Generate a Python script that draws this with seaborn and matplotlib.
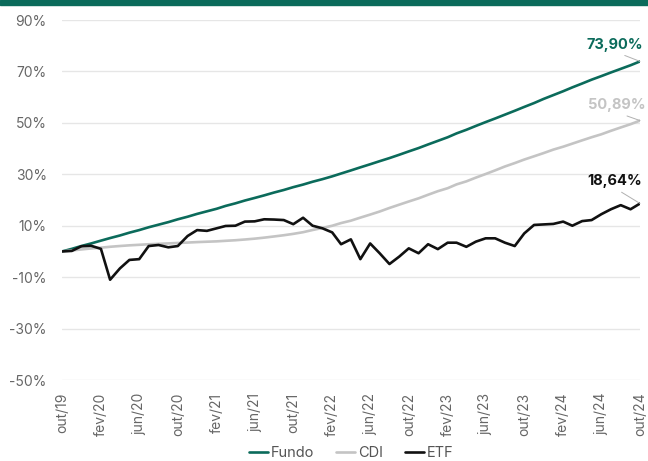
import pandas as pd
import matplotlib.pyplot as plt
import seaborn as sns
from matplotlib.patches import Rectangle

# ----------------------------------------
# Dados (retorno acumulado, %)
# ----------------------------------------
datas = pd.date_range("2019-10-01", "2024-10-01", freq="MS")

fundo = [0.0, 1.0, 2.1, 3.1, 4.2, 5.2, 6.2, 7.3, 8.3, 9.4,
         10.4, 11.4, 12.5, 13.5, 14.6, 15.6, 16.6, 17.7, 18.7, 19.8,
         20.8, 21.8, 22.9, 23.9, 25.0, 26.0, 27.1, 28.1, 29.2, 30.3,
         31.5, 32.7, 33.9, 35.1, 36.3, 37.6, 38.9, 40.2, 41.6, 43.0,
         44.4, 45.9, 47.3, 48.8, 50.3, 51.7, 53.2, 54.7, 56.2, 57.7,
         59.3, 60.8, 62.3, 63.8, 65.3, 66.8, 68.2, 69.6, 71.0, 72.4,
         73.90]

cdi = [0.0, 0.39, 0.77, 1.16, 1.46, 1.81, 2.11, 2.37, 2.58, 2.79,
       2.95, 3.12, 3.29, 3.45, 3.63, 3.78, 3.92, 4.13, 4.35, 4.64,
       4.97, 5.36, 5.82, 6.30, 6.83, 7.48, 8.33, 9.13, 9.99, 11.03,
       11.96, 13.15, 14.33, 15.52, 16.91, 18.19, 19.42, 20.65, 22.04, 23.43,
       24.59, 26.07, 27.25, 28.70, 30.11, 31.52, 33.04, 34.36, 35.73, 37.00,
       38.24, 39.60, 40.73, 41.92, 43.20, 44.41, 45.57, 46.91, 48.21, 49.48,
       50.89]

etf = [0.0, 0.2, 2.0, 2.2, 1.0, -11.0, -6.6, -3.3, -3.0, 2.1,
       2.5, 1.6, 2.1, 6.0, 8.3, 8.0, 9.0, 9.9, 10.0, 11.6,
       11.7, 12.5, 12.4, 12.2, 10.6, 13.1, 10.0, 9.0, 7.4, 2.8,
       4.7, -3.0, 3.1, -0.7, -4.9, -2.0, 1.2, -0.7, 2.8, 0.9,
       3.4, 3.4, 1.8, 3.8, 5.1, 5.1, 3.4, 2.1, 7.0, 10.3,
       10.5, 10.7, 11.6, 10.0, 11.8, 12.2, 14.5, 16.4, 18.0, 16.4,
       18.64]

rotulos_x = ["out/19", "fev/20", "jun/20", "out/20", "fev/21", "jun/21",
             "out/21", "fev/22", "jun/22", "out/22", "fev/23", "jun/23",
             "out/23", "fev/24", "jun/24", "out/24"]
rotulos_finais = {"Fundo": "73,90%", "CDI": "50,89%", "ETF": "18,64%"}
y_ticks = [-50, -30, -10, 10, 30, 50, 70, 90]

verde = "#0b6b5b"
cores = {"Fundo": verde, "CDI": "#c4c4c4", "ETF": "#111111"}

df = pd.DataFrame({"data": datas, "Fundo": fundo, "CDI": cdi, "ETF": etf})
df_long = df.melt(id_vars="data", var_name="serie", value_name="retorno")

# ----------------------------------------
# Estilo
# ----------------------------------------
sns.set_theme(style="white")
plt.rcParams["font.family"] = ["Inter", "DejaVu Sans"]

fig, ax = plt.subplots(figsize=(6.48, 4.61), dpi=100)
fig.subplots_adjust(left=0.0957, right=0.9877, top=0.9566, bottom=0.1757)

sns.lineplot(data=df_long, x="data", y="retorno", hue="serie",
             palette=cores, linewidth=1.9, ax=ax)

ax.set_xlim(datas[0], datas[-1])
ax.set_ylim(-50, 90)
ax.set_yticks(y_ticks)
ax.set_yticklabels([f"{v}%" for v in y_ticks])
ax.set_xticks(datas[::4])
ax.set_xticklabels(rotulos_x, rotation=90)
ax.tick_params(axis="both", length=0, labelsize=10, labelcolor="#666666")
ax.tick_params(axis="y", pad=11)
ax.tick_params(axis="x", pad=9)
ax.set_xlabel("")
ax.set_ylabel("")
ax.yaxis.grid(True, color="#e6e6e6", linewidth=1)
ax.set_axisbelow(True)
sns.despine(ax=ax, left=True, bottom=True)

# rótulos do último valor
deslocamentos = {"Fundo": (-18, 7), "CDI": (-17, 6), "ETF": (-18, 11)}
for serie, texto in rotulos_finais.items():
    ax.annotate(texto, xy=(datas[-1], df[serie].iloc[-1]),
                xytext=deslocamentos[serie], textcoords="offset points",
                ha="center", va="bottom", fontsize=10.5, fontweight="bold",
                color=cores[serie],
                arrowprops=dict(arrowstyle="-", color="#b0b0b0", lw=0.7,
                                relpos=(0.5, 0), shrinkA=1, shrinkB=0))

sns.move_legend(ax, "center", bbox_to_anchor=(0.5, -0.203), ncol=3,
                frameon=False, title=None, fontsize=10.5,
                handlelength=1.3, handletextpad=0.2, columnspacing=1.5)
for t in ax.get_legend().get_texts():
    t.set_color("#555555")

# faixa verde no topo
fig.patches.append(Rectangle((0, 1 - 5 / 461), 1, 5 / 461,
                             transform=fig.transFigure, color=verde))

plt.savefig("out.png", dpi=100)
